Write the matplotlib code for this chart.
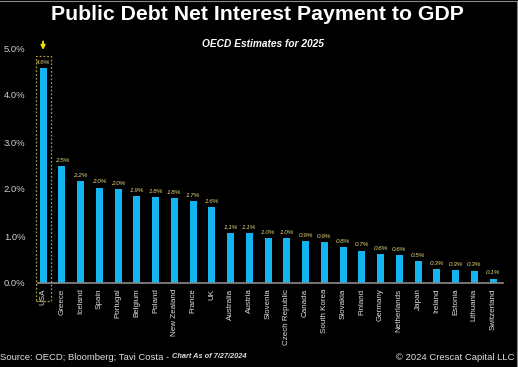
import matplotlib
matplotlib.use("Agg")
import matplotlib.pyplot as plt
from matplotlib.patches import Rectangle
from matplotlib.lines import Line2D

countries = ["USA", "Greece", "Iceland", "Spain", "Portugal", "Belgium", "Poland",
             "New Zealand", "France", "UK", "Australia", "Austria", "Slovenia",
             "Czech Republic", "Canada", "South Korea", "Slovakia", "Finland",
             "Germany", "Netherlands", "Japan", "Ireland", "Estonia", "Lithuania",
             "Switzerland"]
values = [4.57, 2.48, 2.16, 2.03, 1.99, 1.85, 1.82, 1.80, 1.74, 1.62, 1.06, 1.06,
          0.96, 0.96, 0.89, 0.87, 0.77, 0.69, 0.62, 0.60, 0.46, 0.30, 0.27, 0.26, 0.09]
value_labels = ["4.6%", "2.5%", "2.2%", "2.0%", "2.0%", "1.9%", "1.8%", "1.8%", "1.7%",
                "1.6%", "1.1%", "1.1%", "1.0%", "1.0%", "0.9%", "0.9%", "0.8%", "0.7%",
                "0.6%", "0.6%", "0.5%", "0.3%", "0.3%", "0.3%", "0.1%"]
yticks = [0, 1, 2, 3, 4, 5]
ytick_labels = ["0.0%", "1.0%", "2.0%", "3.0%", "4.0%", "5.0%"]

plt.rcParams['font.family'] = ['Liberation Sans', 'DejaVu Sans']

W, H = 518, 367
fig = plt.figure(figsize=(W / 100, H / 100), dpi=100, facecolor="black")
ax = fig.add_axes([38 / W, 1 - 283 / H, 465 / W, 235 / H], facecolor="black")

x = list(range(len(countries)))
ax.bar(x, values, width=0.38, color="#14b4f0", zorder=2)
ax.set_xlim(-0.27, 24.53)
ax.set_ylim(0, 5.0)

for i, (v, lab) in enumerate(zip(values, value_labels)):
    ax.text(i, v + 0.07, lab, ha="center", va="bottom", fontsize=4.6,
            style="italic", color="#e8d77a", clip_on=False)

ax.set_yticks(yticks)
ax.set_yticklabels(ytick_labels, color="#d0d0d0", fontsize=6.8)
ax.set_xticks(x)
ax.set_xticklabels(countries, rotation=90, color="#e0e0e0", fontsize=5.8)
ax.tick_params(axis="both", length=0, pad=4)
ax.tick_params(axis="y", pad=9)
for s in ["top", "right", "left"]:
    ax.spines[s].set_visible(False)
ax.spines["bottom"].set_color("#8a8a8a")
ax.spines["bottom"].set_linewidth(1.2)

# highlight box around USA
ax.add_patch(Rectangle((-0.36, -0.38), 0.76, 5.2, fill=False, edgecolor="#a89a3a",
                       linestyle=(0, (1.5, 1.5)), linewidth=0.9, clip_on=False, zorder=3))
ax.annotate("", xy=(0, 4.9), xytext=(0, 5.2), xycoords="data",
            arrowprops=dict(arrowstyle="-|>", color="#f5e000", lw=1.3,
                            mutation_scale=6), annotation_clip=False)

fig.text(257 / W, 1 - 15 / H, "Public Debt Net Interest Payment to GDP", ha="center",
         va="center", color="white", fontsize=15.3, fontweight="bold")
fig.text(263 / W, 1 - 44 / H, "OECD Estimates for 2025", ha="center", va="center",
         color="white", fontsize=7.3, fontweight="bold", style="italic")

t1 = fig.text(0 / W, 1 - 357 / H, "Source: OECD; Bloomberg; Tavi Costa - ", ha="left",
              va="center", color="#e0e0e0", fontsize=6.8)
fig.canvas.draw()
bb = t1.get_window_extent()
fig.text(bb.x1 / W, 1 - 357 / H, "Chart As of 7/27/2024", ha="left", va="center",
         color="#e0e0e0", fontsize=5.3, fontweight="bold", style="italic")
fig.text(515 / W, 1 - 357 / H, "\u00a9 2024 Crescat Capital LLC", ha="right",
         va="center", color="#e0e0e0", fontsize=6.8)

fig.add_artist(Line2D([516.5 / W, 516.5 / W], [0, 1 - 1 / H], color="#888888", lw=0.8))
fig.add_artist(Line2D([0, 516.5 / W], [1 - 1 / H, 1 - 1 / H], color="#888888", lw=0.8))

fig.savefig("out.png", dpi=100, facecolor="black")
